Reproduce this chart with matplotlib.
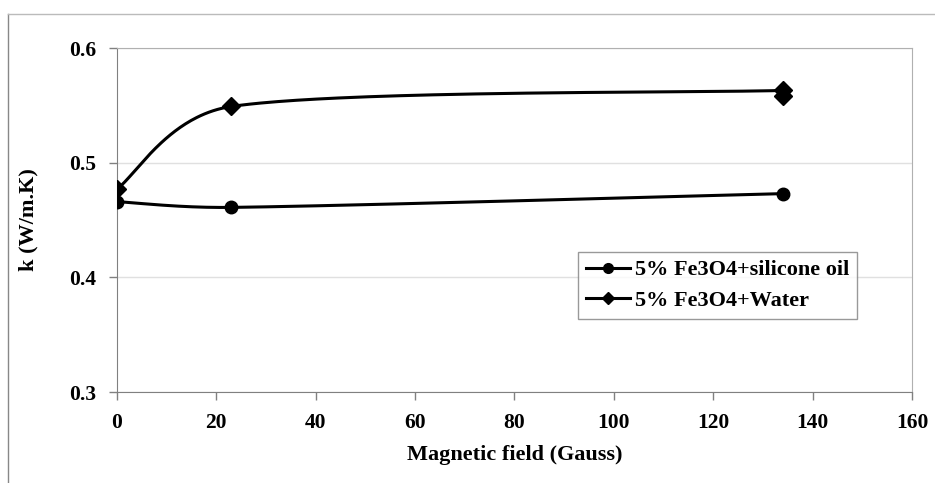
import numpy as np
import matplotlib.pyplot as plt
from matplotlib.lines import Line2D

# Data
field_oil = [0, 23, 134]
k_oil = [0.466, 0.461, 0.473]
field_water = [0, 23, 134, 134]
k_water = [0.477, 0.549, 0.563, 0.558]
labels = ["5% Fe3O4+silicone oil", "5% Fe3O4+Water"]

x_ticks = [0, 20, 40, 60, 80, 100, 120, 140, 160]
y_ticks = [0.3, 0.4, 0.5, 0.6]

plt.rcParams['font.family'] = ['Liberation Serif', 'DejaVu Serif']
plt.rcParams['font.weight'] = 'bold'


def clamp(v, chord, frac=0.45):
    # keep a control arm from overshooting a short segment
    L = np.hypot(*v)
    lim = frac * chord
    return v * (lim / L) if L > lim else v


def excel_smooth(ax, xs, ys, n=80):
    # Excel-like smoothed line: Catmull-Rom bezier computed in pixel space
    xs = np.asarray(xs, float)
    ys = np.asarray(ys, float)
    keep = np.r_[True, np.diff(xs) != 0]  # a repeated x only gets a marker
    pts = ax.transData.transform(np.column_stack([xs[keep], ys[keep]]))
    out = []
    m = len(pts)
    for i in range(m - 1):
        p0 = pts[max(i - 1, 0)]
        p1 = pts[i]
        p2 = pts[i + 1]
        p3 = pts[min(i + 2, m - 1)]
        chord = np.hypot(*(p2 - p1))
        c1 = p1 + clamp((p2 - p0) / 6, chord)
        c2 = p2 - clamp((p3 - p1) / 6, chord)
        t = np.linspace(0, 1, n)[:, None]
        seg = ((1 - t) ** 3) * p1 + 3 * ((1 - t) ** 2) * t * c1 + 3 * (1 - t) * t ** 2 * c2 + t ** 3 * p2
        out.append(seg)
    out = np.vstack(out)
    data = ax.transData.inverted().transform(out)
    return data[:, 0], data[:, 1]


fig = plt.figure(figsize=(9.35, 4.83), dpi=100)
ax = fig.add_axes([0.1251, 0.1884, 0.8503, 0.7122])
ax.set_xlim(0, 160)
ax.set_ylim(0.3, 0.6)

# outer chart frame (left and top edges)
fig.add_artist(Line2D([0.009, 0.009], [0, 0.972], transform=fig.transFigure, color='#888888', lw=1))
fig.add_artist(Line2D([0.009, 1.0], [0.972, 0.972], transform=fig.transFigure, color='#bbbbbb', lw=1))

sx, sy = excel_smooth(ax, field_oil, k_oil)
ax.plot(sx, sy, color='black', lw=2.2, zorder=3)
ax.plot(field_oil, k_oil, 'o', color='black', ms=9, zorder=4)

wx, wy = excel_smooth(ax, field_water, k_water)
ax.plot(wx, wy, color='black', lw=2.2, zorder=3)
ax.plot(field_water, k_water, 'D', color='black', ms=9, zorder=4)

ax.set_xticks(x_ticks)
ax.set_yticks(y_ticks)
ax.set_xticklabels([str(v) for v in x_ticks])
ax.set_yticklabels([f"{v:.1f}" for v in y_ticks])
ax.tick_params(axis='both', labelsize=15.5, color='#808080', length=6, width=1)
ax.tick_params(axis='x', pad=9)
ax.tick_params(axis='y', pad=9)

ax.yaxis.grid(True, color='#e0e0e0', lw=1)
ax.set_axisbelow(True)
for s in ['left', 'bottom']:
    ax.spines[s].set_color('#808080')
for s in ['top', 'right']:
    ax.spines[s].set_color('#b0b0b0')

ax.set_xlabel("Magnetic field (Gauss)", fontsize=16, fontweight='bold', labelpad=9)
ax.set_ylabel("k (W/m.K)", fontsize=16, fontweight='bold', labelpad=22)

handles = [Line2D([], [], color='black', lw=2.2, marker='o', ms=7),
           Line2D([], [], color='black', lw=2.2, marker='D', ms=6)]
leg = ax.legend(handles, labels, loc='upper left', bbox_to_anchor=(0.58, 0.407),
                borderaxespad=0, fontsize=16, frameon=True, fancybox=False,
                handlelength=2.0, handletextpad=0.2, borderpad=0.35, labelspacing=0.45)
leg.get_frame().set_edgecolor('#808080')
leg.get_frame().set_linewidth(1)

fig.savefig('out.png', dpi=100)
